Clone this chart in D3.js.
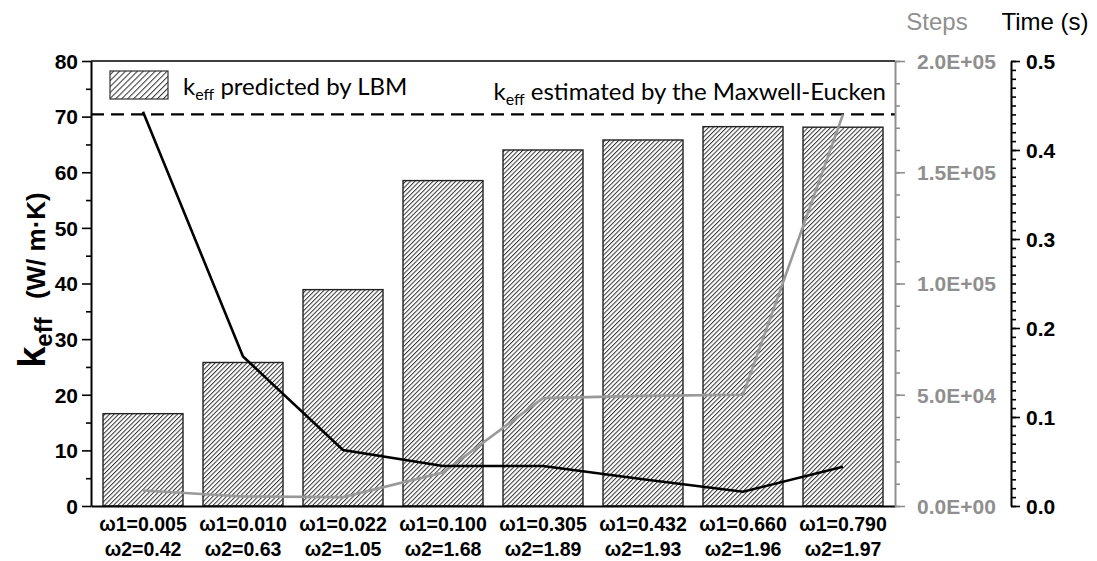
<!DOCTYPE html>
<html>
<head>
<meta charset="utf-8">
<script src="https://cdn.jsdelivr.net/npm/d3@7"></script>
<style>
  body { margin: 0; background: #fff; }
  svg { display: block; }
</style>
</head>
<body>
<svg id="chart" width="1097" height="561"></svg>
<script>
// data
var omega1 = ["0.005", "0.010", "0.022", "0.100", "0.305", "0.432", "0.660", "0.790"];
var omega2 = ["0.42", "0.63", "1.05", "1.68", "1.89", "1.93", "1.96", "1.97"];
var keffLBM = [16.6, 25.8, 38.9, 58.5, 64.0, 65.8, 68.2, 68.1];
var keffMaxwell = 70.4;
var steps = [7000, 4300, 4000, 15000, 48500, 49500, 50000, 176000];
var timeSec = [0.443, 0.168, 0.063, 0.045, 0.045, 0.030, 0.016, 0.044];
var leftTicks = [0, 10, 20, 30, 40, 50, 60, 70, 80];
var stepTicks = [0, 50000, 100000, 150000, 200000];
var timeTicks = [0, 0.1, 0.2, 0.3, 0.4, 0.5];

var svg = d3.select("#chart");
var margin = { top: 61, right: 202, bottom: 55, left: 91 };
var width = 1097 - margin.left - margin.right;
var height = 561 - margin.top - margin.bottom;
var grey = "#8f8f8f";
var arial = "'Liberation Sans', Arial, sans-serif";
var calibri = "Lato, 'Open Sans', sans-serif";

var cats = omega1.map(function(d, i) { return i; });

var x = d3.scaleBand().domain(cats).range([0, width]).paddingInner(0.2).paddingOuter(0.12);
var y = d3.scaleLinear().domain([0, 80]).range([height, 0]);
var yS = d3.scaleLinear().domain([0, 200000]).range([height, 0]);
var yT = d3.scaleLinear().domain([0, 0.5]).range([height, 0]);

// hatch patterns
var defs = svg.append("defs");
function hatch(id, gap) {
  var p = defs.append("pattern")
    .attr("id", id)
    .attr("patternUnits", "userSpaceOnUse")
    .attr("width", gap).attr("height", gap)
    .attr("patternTransform", "rotate(45)");
  p.append("rect").attr("width", gap).attr("height", gap).attr("fill", "#fff");
  p.append("line")
    .attr("x1", 0.5).attr("y1", 0).attr("x2", 0.5).attr("y2", gap)
    .attr("stroke", "#333").attr("stroke-width", 1);
}
hatch("hatchBar", 3.2);
hatch("hatchLeg", 4.2);

var g = svg.append("g").attr("transform", "translate(" + margin.left + "," + margin.top + ")");

// bars
g.selectAll("rect.bar")
  .data(keffLBM)
  .enter().append("rect")
  .attr("class", "bar")
  .attr("x", function(d, i) { return x(i); })
  .attr("y", function(d) { return y(d); })
  .attr("width", x.bandwidth())
  .attr("height", function(d) { return height - y(d); })
  .attr("fill", "url(#hatchBar)")
  .attr("stroke", "#222")
  .attr("stroke-width", 1.4);

// Maxwell-Eucken dashed line
g.append("line")
  .attr("x1", 0).attr("x2", width)
  .attr("y1", y(keffMaxwell)).attr("y2", y(keffMaxwell))
  .attr("stroke", "#000").attr("stroke-width", 2.2)
  .attr("stroke-dasharray", "13,7");

// lines
var cx = function(d, i) { return x(i) + x.bandwidth() / 2; };
g.append("path")
  .datum(steps)
  .attr("fill", "none").attr("stroke", "#999").attr("stroke-width", 2.6)
  .attr("d", d3.line().x(cx).y(function(d) { return yS(d); }));
g.append("path")
  .datum(timeSec)
  .attr("fill", "none").attr("stroke", "#000").attr("stroke-width", 2.6)
  .attr("d", d3.line().x(cx).y(function(d) { return yT(d); }));

// frame top
g.append("line").attr("x1", 0).attr("x2", width).attr("y1", 0).attr("y2", 0)
  .attr("stroke", "#000").attr("stroke-width", 1.6);

// left axis
var minorLeft = d3.range(5, 80, 10);
g.append("g").call(d3.axisLeft(y).tickValues(minorLeft).tickSize(5).tickFormat(""))
  .call(function(a) { a.select(".domain").remove(); });
var ax = g.append("g").call(d3.axisLeft(y).tickValues(leftTicks).tickSize(9).tickSizeOuter(0).tickPadding(4));
g.selectAll("g.tick line").attr("stroke-width", 1.6);
ax.select(".domain").attr("stroke-width", 2);
ax.selectAll("text").attr("font-family", arial).attr("font-weight", "bold").attr("font-size", 21).attr("fill", "#000").attr("dy", "0.35em");

// bottom axis
var bx = g.append("g").attr("transform", "translate(0," + height + ")")
  .call(d3.axisBottom(x).tickSize(0).tickFormat(""));
bx.select(".domain").attr("stroke-width", 2);
var xl = bx.selectAll("g.tick").append("text")
  .attr("text-anchor", "middle")
  .attr("font-family", arial).attr("font-weight", "bold").attr("font-size", 19.5)
  .attr("fill", "#000");
xl.append("tspan").attr("x", 0).attr("y", 25).text(function(d) { return "\u03c91=" + omega1[d]; });
xl.append("tspan").attr("x", 0).attr("y", 50).text(function(d) { return "\u03c92=" + omega2[d]; });

// steps axis (grey)
var sx = g.append("g").attr("transform", "translate(" + width + ",0)");
sx.append("g").call(d3.axisRight(yS).tickValues(d3.range(0, 200001, 10000)).tickSize(5).tickFormat(""))
  .call(function(a) { a.select(".domain").remove(); });
sx.append("g").call(d3.axisRight(yS).tickValues(stepTicks).tickSize(10).tickSizeOuter(0).tickPadding(12)
    .tickFormat(function(d) { return d.toExponential(1).toUpperCase().replace(/E\+(\d)$/, "E+0$1"); }))
  .call(function(a) { a.select(".domain").attr("stroke-width", 2); });
sx.selectAll("line, path").attr("stroke", grey);
sx.selectAll("g.tick line").attr("stroke-width", 1.6);
sx.selectAll("text").attr("font-family", arial).attr("font-weight", "bold").attr("font-size", 21).attr("fill", grey).attr("dy", "0.35em");

// time axis (black)
var tx = g.append("g").attr("transform", "translate(" + (width + 116) + ",0)");
tx.append("g").call(d3.axisRight(yT).tickValues(d3.range(0, 51).map(function(i) { return i / 100; })).tickSize(5).tickFormat(""))
  .call(function(a) { a.select(".domain").remove(); });
tx.append("g").call(d3.axisRight(yT).tickValues(timeTicks).tickSize(9).tickSizeOuter(0).tickPadding(6).tickFormat(d3.format(".1f")))
  .call(function(a) { a.select(".domain").attr("stroke-width", 2); });
tx.selectAll("g.tick line").attr("stroke-width", 1.6);
tx.selectAll("text").attr("font-family", arial).attr("font-weight", "bold").attr("font-size", 21).attr("fill", "#000").attr("dy", "0.35em");

// axis titles on the right
svg.append("text").attr("x", 937).attr("y", 30).attr("text-anchor", "middle")
  .attr("font-family", arial).attr("font-size", 24).attr("fill", grey).text("Steps");
svg.append("text").attr("x", 1045).attr("y", 30).attr("text-anchor", "middle")
  .attr("font-family", arial).attr("font-size", 24).attr("fill", "#000").text("Time (s)");

// left title
var lt = svg.append("text")
  .attr("transform", "translate(45,280) rotate(-90)")
  .attr("text-anchor", "middle")
  .attr("font-family", arial).attr("font-weight", "bold").attr("fill", "#000");
lt.append("tspan").attr("font-size", 38).text("k");
lt.append("tspan").attr("font-size", 24).attr("dy", 7).text("eff");
lt.append("tspan").attr("font-size", 26).attr("dy", -7).text("\u2002\u2009(W/ m\u00b7K)");

// legend
svg.append("rect").attr("x", 110).attr("y", 71).attr("width", 58).attr("height", 28)
  .attr("fill", "url(#hatchLeg)").attr("stroke", "#333").attr("stroke-width", 1.2);
var l1 = svg.append("text").attr("x", 183).attr("y", 95)
  .attr("font-family", calibri).attr("font-size", 24).attr("fill", "#000");
l1.append("tspan").text("k");
l1.append("tspan").attr("font-size", 16).attr("dy", 5).text("eff");
l1.append("tspan").attr("dy", -5).text(" predicted by LBM");

var l2 = svg.append("text").attr("x", 886).attr("y", 100).attr("text-anchor", "end")
  .attr("font-family", calibri).attr("font-size", 24).attr("fill", "#000");
l2.append("tspan").text("k");
l2.append("tspan").attr("font-size", 16).attr("dy", 5).text("eff");
l2.append("tspan").attr("dy", -5).text(" estimated by the Maxwell-Eucken");
</script>
</body>
</html>
